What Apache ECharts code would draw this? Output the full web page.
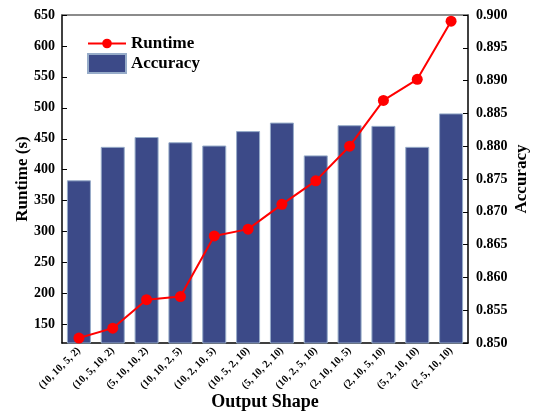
<!DOCTYPE html>
<html>
<head>
<meta charset="utf-8">
<script src="https://cdn.jsdelivr.net/npm/echarts@6/dist/echarts.min.js"></script>
<style>
  html, body { margin: 0; padding: 0; background: #fff; }
  #chart { width: 536px; height: 415px; }
</style>
</head>
<body>
<div id="chart"></div>
<script>
// Output shapes tested
const shapes = [
  '(10, 10, 5, 2)', '(10, 5, 10, 2)', '(5, 10, 10, 2)', '(10, 10, 2, 5)',
  '(10, 2, 10, 5)', '(10, 5, 2, 10)', '(5, 10, 2, 10)', '(10, 2, 5, 10)',
  '(2, 10, 10, 5)', '(2, 10, 5, 10)', '(5, 2, 10, 10)', '(2, 5, 10, 10)'
];
// Runtime in seconds
const runtime = [128, 144, 190, 195, 293, 304, 344, 382, 438, 512, 546, 640];
// Accuracy per shape
const accuracy = [0.8748, 0.8799, 0.8814, 0.8806, 0.8801, 0.8823,
                  0.8836, 0.8786, 0.8832, 0.8831, 0.8799, 0.8850];
// Runtime axis tick values
const runtimeTicks = [150, 200, 250, 300, 350, 400, 450, 500, 550, 600, 650];

const serif = 'Liberation Serif';
const legendText = { fontFamily: serif, fontWeight: 'bold', fontSize: 17, color: '#000' };
const nameText = { fontFamily: serif, fontWeight: 'bold', fontSize: 17, color: '#000' };
const chart = echarts.init(document.getElementById('chart'));

chart.setOption({
  animation: false,
  backgroundColor: '#fff',
  grid: { left: 62, right: 68, top: 15, bottom: 72, outerBoundsMode: 'none', containLabel: false },
  legend: [
    {
      data: ['Runtime'],
      left: 82,
      top: 30,
      itemWidth: 38,
      itemHeight: 12,
      textStyle: legendText
    },
    {
      data: [{ name: 'Accuracy', icon: 'rect' }],
      left: 82,
      top: 48,
      itemWidth: 38,
      itemHeight: 19,
      textStyle: legendText
    }
  ],
  xAxis: [
    {
      type: 'category',
      data: shapes,
      name: 'Output Shape',
      nameLocation: 'middle',
      nameGap: 50,
      nameMoveOverlap: false,
      nameTextStyle: Object.assign({}, nameText, { fontSize: 18 }),
      axisLine: { lineStyle: { color: '#000', width: 1.5 } },
      axisTick: { alignWithLabel: true, inside: true, length: 6, lineStyle: { color: '#000' } },
      axisLabel: {
        rotate: 45, interval: 0, margin: 6,
        fontFamily: serif, fontWeight: 'bold', fontSize: 10.5, color: '#000'
      }
    },
    {
      type: 'category',
      data: shapes,
      position: 'top',
      axisLine: { lineStyle: { color: '#666', width: 1.5 } },
      axisTick: { show: false },
      axisLabel: { show: false }
    }
  ],
  yAxis: [
    {
      type: 'value',
      min: 120,
      max: 650,
      name: 'Runtime (s)',
      nameLocation: 'middle',
      nameGap: 31,
      nameMoveOverlap: false,
      nameTextStyle: nameText,
      axisLine: { show: true, lineStyle: { color: '#000', width: 1.5 } },
      axisTick: { show: true, inside: true, length: 5, customValues: runtimeTicks, lineStyle: { color: '#000' } },
      axisLabel: {
        customValues: runtimeTicks, margin: 7,
        fontFamily: serif, fontWeight: 'bold', fontSize: 14, color: '#000'
      },
      splitLine: { show: false }
    },
    {
      type: 'value',
      min: 0.85,
      max: 0.9,
      interval: 0.005,
      name: 'Accuracy',
      nameLocation: 'middle',
      nameGap: 45,
      nameRotate: 90,
      nameMoveOverlap: false,
      nameTextStyle: nameText,
      axisLine: { show: true, lineStyle: { color: '#000', width: 1.5 } },
      axisTick: { show: true, inside: true, length: 5, lineStyle: { color: '#000' } },
      axisLabel: {
        margin: 8,
        formatter: v => v.toFixed(3),
        fontFamily: serif, fontWeight: 'bold', fontSize: 14, color: '#000'
      },
      splitLine: { show: false }
    }
  ],
  series: [
    {
      name: 'Accuracy',
      type: 'bar',
      yAxisIndex: 1,
      data: accuracy,
      barWidth: 24,
      itemStyle: { color: '#3c4a88', borderColor: '#97acc9', borderWidth: 1 },
      z: 1
    },
    {
      name: 'Runtime',
      type: 'line',
      yAxisIndex: 0,
      data: runtime,
      symbol: 'circle',
      symbolSize: 11,
      lineStyle: { color: '#ff0000', width: 2 },
      itemStyle: { color: '#ff0000' },
      z: 3
    }
  ]
});
</script>
</body>
</html>
